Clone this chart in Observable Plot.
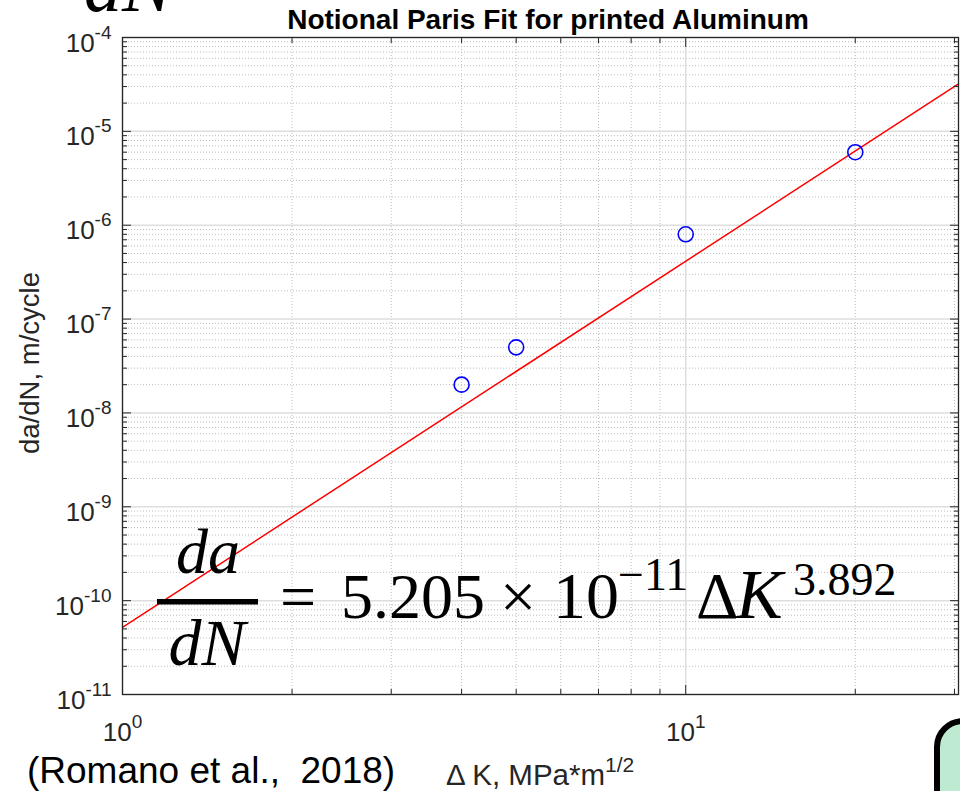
<!DOCTYPE html>
<html><head><meta charset="utf-8">
<script src="https://cdn.jsdelivr.net/npm/d3@7"></script>
<script src="https://cdn.jsdelivr.net/npm/@observablehq/plot@0.6"></script>
<style>
html,body{margin:0;padding:0;background:#fff;overflow:hidden}
#chart{position:relative;width:960px;height:791px}
</style></head><body><div id="chart"></div>
<script>
// ---- data ----
const deltaK = [4, 5, 10, 20];            // MPa*m^1/2
const dadN = [2e-8, 5e-8, 8e-7, 6e-6];    // m/cycle
const fitK = [1, 30.5];                   // fitted line end points
const fitRate = [5.2e-11, 3.2e-5];
const xMajor = [1, 10];
const xExp = ["0", "1"];
const yMajor = [1e-11, 1e-10, 1e-9, 1e-8, 1e-7, 1e-6, 1e-5, 1e-4];
const yExp = ["-11", "-10", "-9", "-8", "-7", "-6", "-5", "-4"];
const xDomain = [1, 30.5];
const yDomain = [1e-11, 1e-4];
const titleText = "Notional Paris Fit for printed Aluminum";
const yLabelText = "da/dN, m/cycle";
const xLabelText = "\u0394 K, MPa*m";
const xLabelSup = "1/2";
const citation = "(Romano et al.,  2018)";

const points = deltaK.map((k, i) => ({k, r: dadN[i]}));
const fit = fitK.map((k, i) => ({k, r: fitRate[i]}));
const xMinor = d3.scaleLog().domain(xDomain).ticks().filter(v => !xMajor.includes(v));
const yMinor = d3.scaleLog().domain(yDomain).ticks().filter(v => !yMajor.some(m => Math.abs(m - v) / m < 1e-9));

const axisCol = "#262626";
const xtlCol = "#262627";
const ytlCol = "#272626";
const sans = "'Liberation Sans', Arial, Helvetica, sans-serif";
const serif = "'Liberation Serif', 'Times New Roman', serif";

const svgNode = Plot.plot({
  width: 960, height: 791,
  marginLeft: 122, marginRight: 2, marginTop: 37, marginBottom: 97,
  style: {background: "white", fontFamily: sans, color: axisCol},
  x: {type: "log", domain: xDomain},
  y: {type: "log", domain: yDomain},
  marks: [
    Plot.ruleX(xMinor, {stroke: "#bdbdbd", strokeDasharray: "1,2", strokeWidth: 1}),
    Plot.ruleY(yMinor, {stroke: "#bdbdbd", strokeDasharray: "1,2", strokeWidth: 1}),
    Plot.ruleX(xMajor, {stroke: "#dedede", strokeWidth: 1.5}),
    Plot.ruleY(yMajor, {stroke: "#dedede", strokeWidth: 1.5}),
    Plot.line(fit, {x: "k", y: "r", stroke: "#ff0000", strokeWidth: 1.5}),
    Plot.dot(points, {x: "k", y: "r", r: 7.5, stroke: "#0000ff", strokeWidth: 1.6, fill: "none"}),
    Plot.axisX(xMajor, {anchor: "bottom", tickSize: -9, fill: "none", stroke: axisCol, label: null}),
    Plot.axisX(xMajor, {anchor: "top", tickSize: -9, fill: "none", stroke: axisCol, label: null}),
    Plot.axisX(xMinor, {anchor: "bottom", tickSize: -5, fill: "none", stroke: axisCol, label: null}),
    Plot.axisX(xMinor, {anchor: "top", tickSize: -5, fill: "none", stroke: axisCol, label: null}),
    Plot.axisY(yMajor, {anchor: "left", tickSize: -9, fill: "none", stroke: axisCol, label: null}),
    Plot.axisY(yMajor, {anchor: "right", tickSize: -9, fill: "none", stroke: axisCol, label: null}),
    Plot.axisY(yMinor, {anchor: "left", tickSize: -5, fill: "none", stroke: axisCol, label: null}),
    Plot.axisY(yMinor, {anchor: "right", tickSize: -5, fill: "none", stroke: axisCol, label: null}),
    Plot.frame({stroke: axisCol, strokeWidth: 1.3}),
    Plot.text(xMajor, {x: d => d, y: yDomain[0], text: () => "10", textAnchor: "middle", lineAnchor: "bottom",
      dy: 46, fontSize: 26, fill: xtlCol}),
    Plot.text(yMajor, {x: xDomain[0], y: d => d, text: () => "10", textAnchor: "end", lineAnchor: "bottom",
      dx: -11, dy: 14, fontSize: 26, fill: ytlCol})
  ]
});

document.getElementById("chart").appendChild(svgNode);
const svg = d3.select(svgNode);

// superscript exponents on tick labels
svg.selectAll(`g[fill="${xtlCol}"] text`).each(function(_, i) {
  d3.select(this).append("tspan").attr("dy", -13).attr("font-size", 19).text(xExp[i]);
});
svg.selectAll(`g[fill="${ytlCol}"] text`).each(function(_, i) {
  d3.select(this).append("tspan").attr("dy", -13).attr("font-size", 19).text(yExp[i]);
});

// title and axis labels
svg.append("text").attr("x", 548).attr("y", 29).attr("text-anchor", "middle")
  .attr("font-family", sans).attr("font-weight", "bold").attr("font-size", 28).attr("fill", "#000").text(titleText);
svg.append("text").attr("transform", "translate(39,363) rotate(-90)").attr("text-anchor", "middle")
  .attr("font-family", sans).attr("font-size", 27.5).attr("fill", axisCol).text(yLabelText);
const xl = svg.append("text").attr("x", 446).attr("y", 785).attr("text-anchor", "start")
  .attr("font-family", sans).attr("font-size", 29.5).attr("fill", axisCol).text(xLabelText);
xl.append("tspan").attr("dy", -13).attr("font-size", 21).text(xLabelSup);

// citation
svg.append("text").attr("x", 27).attr("y", 783).attr("text-anchor", "start").attr("font-family", sans).attr("font-size", 37)
  .attr("fill", "#000").style("white-space", "pre").text(citation);

// equation
const eq = svg.append("g").attr("font-family", serif).attr("fill", "#000").attr("text-anchor", "start");
eq.append("text").attr("x", 84).attr("y", 11).attr("font-size", 76).attr("font-style", "italic").text("dN");
eq.append("text").attr("x", 208).attr("y", 573).attr("text-anchor", "middle").attr("font-size", 64).attr("font-style", "italic").text("da");
eq.append("rect").attr("x", 157).attr("y", 599).attr("width", 101).attr("height", 5.5);
eq.append("text").attr("x", 207).attr("y", 665).attr("text-anchor", "middle").attr("font-size", 66).attr("font-style", "italic").text("dN");
eq.append("text").attr("x", 280).attr("y", 618).attr("font-size", 64).text("=");
eq.append("text").attr("x", 341).attr("y", 618).attr("font-size", 64).text("5.205");
eq.append("text").attr("x", 500).attr("y", 618).attr("font-size", 64).text("\u00d7");
eq.append("text").attr("x", 553).attr("y", 618).attr("font-size", 66).text("10");
eq.append("text").attr("x", 618).attr("y", 590).attr("font-size", 46).text("\u221211");
eq.append("text").attr("x", 696).attr("y", 618).attr("font-size", 66).text("\u0394");
eq.append("text").attr("x", 736).attr("y", 618).attr("font-size", 70).attr("font-style", "italic").text("K");
eq.append("text").attr("x", 793).attr("y", 595).attr("font-size", 46).text("3.892");

// partial green box at bottom right
svg.append("rect").attr("x", 937).attr("y", 721).attr("width", 120).attr("height", 200).attr("rx", 26)
  .attr("fill", "#bfead2").attr("stroke", "#000").attr("stroke-width", 6);
</script></body></html>
